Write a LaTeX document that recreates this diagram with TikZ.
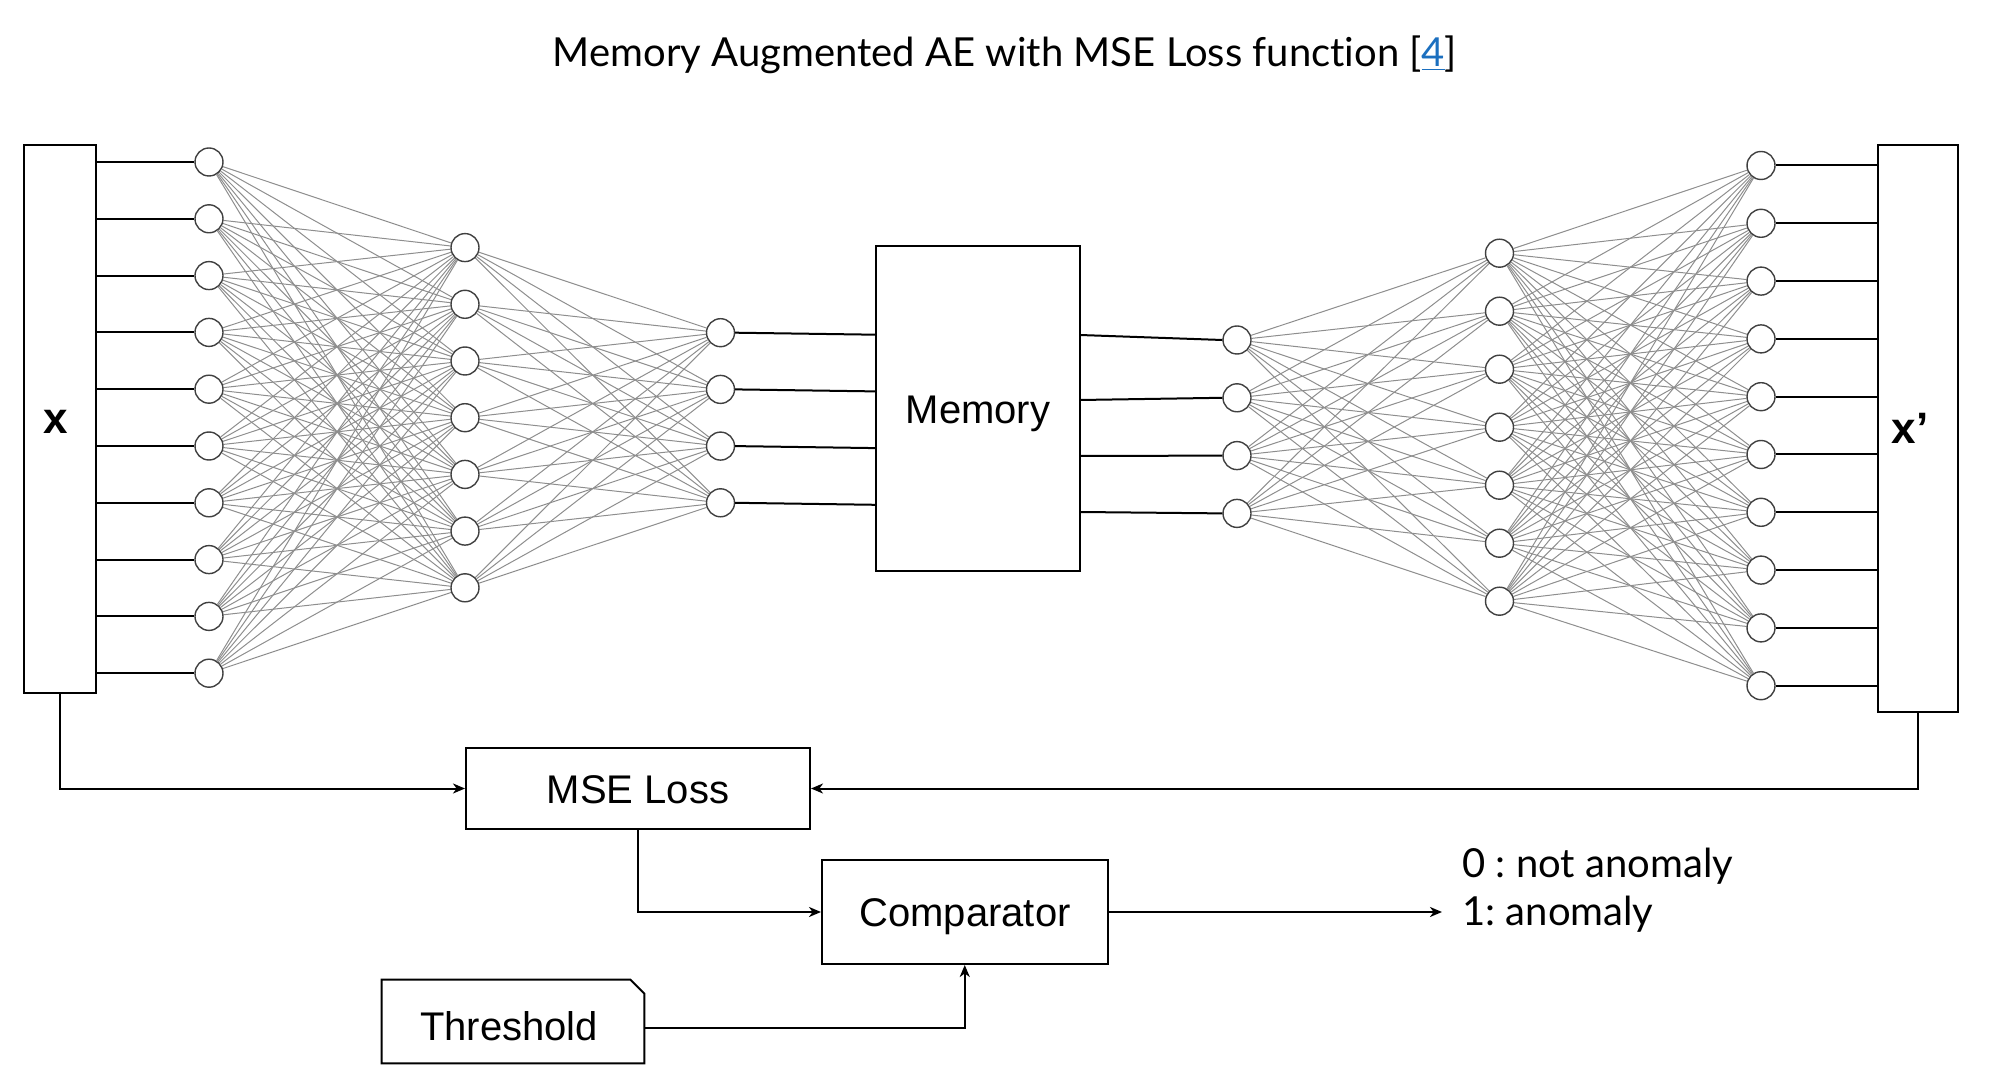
\documentclass[tikz,border=0pt]{standalone}
\usepackage{fontspec}
\setmainfont{Liberation Sans}
\newfontfamily\latofont[Ligatures={NoCommon,NoContextual},RawFeature={-liga;-dlig}]{Lato}
\usetikzlibrary{arrows.meta}
\definecolor{edgegray}{HTML}{8E8E8E}
\definecolor{linkblue}{HTML}{1B6FBF}
\pgfdeclarelayer{bg}
\pgfsetlayers{bg,main}
\frenchspacing
\begin{document}
\begin{tikzpicture}[x=0.5pt,y=-0.5pt,
  neuron/.style={circle,draw=black!75,line width=0.7pt,fill=white,minimum size=14pt,inner sep=0pt},
  edge/.style={draw=edgegray,line width=0.5pt},
  wire/.style={draw=black,line width=1pt},
  arr/.style={wire,-{Stealth[length=6pt,width=5pt,inset=1.8pt]}},
  box/.style={draw=black,line width=1pt,inner sep=0pt,fill=white},
  lbl/.style={font=\fontsize{20}{24}\selectfont,inner sep=0pt},
  latolbl/.style={font=\latofont\fontsize{20}{24}\selectfont,inner sep=0pt},
]
\useasboundingbox (0,0) rectangle (1996,1090);

% title
\node[latolbl,anchor=base] (title) at (1005,66.7) {Memory Augmented AE with MSE Loss function [\textcolor{linkblue}{\underline{4}}]};

% neurons
\foreach \i in {1,...,10} \node[neuron] (a\i) at (209,{162+(\i-1)*56.8}) {};
\foreach \j in {1,...,7} \node[neuron] (b\j) at (465,{247.6+(\j-1)*56.7}) {};
\foreach \k in {1,...,4} \node[neuron] (c\k) at (720.5,{332.7+(\k-1)*56.7}) {};
\foreach \k in {1,...,4} \node[neuron] (d\k) at (1237,{340+(\k-1)*57.8}) {};
\foreach \j in {1,...,7} \node[neuron] (e\j) at (1499.5,{253.2+(\j-1)*58}) {};
\foreach \i in {1,...,10} \node[neuron] (f\i) at (1761,{165.5+(\i-1)*57.8}) {};

% dense connections
\begin{pgfonlayer}{bg}
\foreach \i in {1,...,10} \foreach \j in {1,...,7} \draw[edge] (a\i) -- (b\j);
\foreach \j in {1,...,7} \foreach \k in {1,...,4} \draw[edge] (b\j) -- (c\k);
\foreach \k in {1,...,4} \foreach \j in {1,...,7} \draw[edge] (d\k) -- (e\j);
\foreach \j in {1,...,7} \foreach \i in {1,...,10} \draw[edge] (e\j) -- (f\i);
\end{pgfonlayer}

% boxes
\node[box,minimum width=35.85pt,minimum height=274pt] (X) at (59.85,419) {};
\node[lbl,font=\fontsize{22}{26}\selectfont\bfseries,anchor=base] (xlab) at (56,434) {x};
\node[box,minimum width=40pt,minimum height=283.5pt] (Xp) at (1917.5,428.5) {};
\node[lbl,font=\fontsize{22}{26}\selectfont\bfseries,anchor=base] (xplab) at (1910,443.3) {x’};
\node[box,minimum width=102pt,minimum height=162.35pt] (M) at (978,408.35) {};
\node[lbl,anchor=base] (mlab) at (978,424) {Memory};

\node[box,minimum width=172pt,minimum height=40.5pt] (mse) at (638,788.5) {};
\node[lbl,anchor=base] (mselab) at (638,803) {MSE Loss};
\node[box,minimum width=142.75pt,minimum height=52pt] (cmp) at (964.75,912) {};
\node[lbl,anchor=base] (cmplab) at (965,926) {Comparator};
\node[minimum width=131pt,minimum height=41.5pt,inner sep=0pt] (thr) at (513,1021.5) {};
\draw[line width=1pt] (thr.north west) -- ([xshift=-7pt]thr.north east) -- ([yshift=-7pt]thr.north east) -- (thr.south east) -- (thr.south west) -- cycle;
\node[lbl,anchor=base] (thrlab) at (509,1040) {Threshold};

% input / output wires
\foreach \i in {1,...,10} \draw[wire] (a\i -| X.east) -- (a\i.west);
\foreach \i in {1,...,10} \draw[wire] (f\i.east) -- (f\i -| Xp.west);

% memory wires
\foreach \k in {1,...,4} \draw[wire] (c\k.east) -- ([yshift=-1pt]c\k -| M.west);
\coordinate (m1) at (1080,335);
\coordinate (m2) at (1080,400);
\coordinate (m3) at (1080,456);
\coordinate (m4) at (1080,512);
\foreach \k in {1,...,4} \draw[wire] (m\k) -- (d\k.west);

% bottom flow
\draw[arr] (X.south) |- (mse.west);
\draw[arr] (Xp.south) |- (mse.east);
\draw[arr] (mse.south) |- (cmp.west);
\coordinate (outtip) at (1442,912);
\draw[arr] (cmp.east) -- (outtip);
\draw[arr] ([yshift=-3.1pt]thr.east) -| (cmp.south);

\node[latolbl,anchor=base west] (out0) at (1462,877) {0 : not anomaly};
\node[latolbl,anchor=base west] (out1) at (1462,925) {1: anomaly};
\end{tikzpicture}
\end{document}
